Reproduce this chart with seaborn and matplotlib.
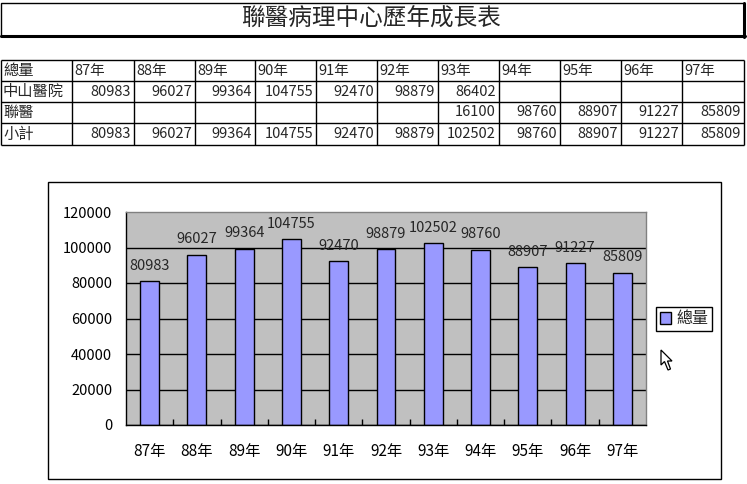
import numpy as np
import matplotlib
matplotlib.use("Agg")
import matplotlib.pyplot as plt
from matplotlib.patches import Rectangle, Polygon
import seaborn as sns

sns.set_theme(style="white")
plt.rcParams["font.family"] = ["Noto Sans CJK TC", "DejaVu Sans"]

# data read from the sheet
title = "聯醫病理中心歷年成長表"
years = ["87年", "88年", "89年", "90年", "91年", "92年", "93年", "94年", "95年", "96年", "97年"]
zhongshan = [80983, 96027, 99364, 104755, 92470, 98879, 86402, None, None, None, None]
lianyi = [None, None, None, None, None, None, 16100, 98760, 88907, 91227, 85809]
subtotal = [80983, 96027, 99364, 104755, 92470, 98879, 102502, 98760, 88907, 91227, 85809]
row_labels = ["總量", "中山醫院", "聯醫", "小計"]
series_name = "總量"
yticks = [0, 20000, 40000, 60000, 80000, 100000, 120000]

W, H = 747, 484
fig = plt.figure(figsize=(W / 100, H / 100), dpi=100)

# pixel canvas for the sheet part
ax0 = fig.add_axes([0, 0, 1, 1], zorder=0)
ax0.set_xlim(0, W)
ax0.set_ylim(H, 0)
ax0.axis("off")

# title box
ax0.add_patch(Rectangle((1, 3), 743, 33, fill=False, ec="black", lw=1))
ax0.plot([1, 745], [36, 36], color="black", lw=2.2)
ax0.plot([744, 744], [3, 37], color="black", lw=2.2)
ax0.text(371, 19.5, title, ha="center", va="center", fontsize=17)

# table grid
col_x = [1, 72, 134, 195, 255, 316, 377, 438, 499, 560, 621, 682, 744]
row_y = [60, 81, 102, 123, 145]
ax0.hlines(row_y, col_x[0], col_x[-1], color="black", lw=1)
ax0.vlines(col_x, row_y[0], row_y[-1], color="black", lw=1)

mid = [(row_y[i] + row_y[i + 1]) / 2 for i in range(4)]
for i, lab in enumerate(row_labels):
    ax0.text(3, mid[i], lab, ha="left", va="center", fontsize=11)
for j, yr in enumerate(years):
    ax0.text(col_x[j + 1] + 2, mid[0], yr, ha="left", va="center", fontsize=10.5)
for r, row in enumerate([zhongshan, lianyi, subtotal]):
    for j, v in enumerate(row):
        if v is not None:
            ax0.text(col_x[j + 2] - 3, mid[r + 1], str(v), ha="right", va="center", fontsize=10.5)

# chart frame
ax0.add_patch(Rectangle((48, 182), 673, 297, fc="white", ec="black", lw=1))

# mouse pointer from the screenshot
cur = np.array([[0, 0], [0, 15], [3.5, 11.5], [7, 20], [9.5, 19], [6.5, 11], [11, 11]])
ax0.add_patch(Polygon(cur + [661, 350], closed=True, fc="white", ec="black", lw=0.9))

# the bar chart
ax = fig.add_axes([126 / W, 1 - 425 / H, 520 / W, 213 / H], zorder=2)
ax.set_facecolor("#C0C0C0")
sns.barplot(x=years, y=subtotal, color="#9999FF", saturation=1, width=0.4,
            edgecolor="black", linewidth=1, label=series_name, ax=ax)
ax.bar_label(ax.containers[0], fmt="%d", padding=6, fontsize=10.5)

ax.set_ylim(0, 120000)
ax.set_yticks(yticks)
ax.set_yticklabels([str(t) for t in yticks])
ax.grid(axis="y", color="black", lw=1)
ax.grid(axis="x", visible=False)
ax.set_axisbelow(True)
ax.get_ygridlines()[-1].set_visible(False)
ax.set_xlabel("")
ax.set_ylabel("")

for s in ["left", "bottom"]:
    ax.spines[s].set_color("black")
    ax.spines[s].set_linewidth(1)
for s in ["top", "right"]:
    ax.spines[s].set_color("#808080")
    ax.spines[s].set_linewidth(1)

ax.tick_params(axis="y", length=0, pad=10, labelsize=10.5, colors="black")
ax.tick_params(axis="x", which="major", length=0, pad=13, labelsize=11, colors="black")
ax.set_xticks(np.arange(0.5, len(years) - 1, 1), minor=True)
ax.tick_params(axis="x", which="minor", bottom=True, direction="in", length=4,
               width=1, color="black")

ax.legend(loc="center left", bbox_to_anchor=(656 / W, 1 - 319 / H),
          bbox_transform=fig.transFigure, frameon=True, fancybox=False,
          edgecolor="black", framealpha=1, fontsize=11.5, handlelength=0.7,
          handleheight=0.7, handletextpad=0.3, borderpad=0.25, borderaxespad=0)
ax.get_legend().get_frame().set_linewidth(1)

fig.savefig("out.png", dpi=100)
